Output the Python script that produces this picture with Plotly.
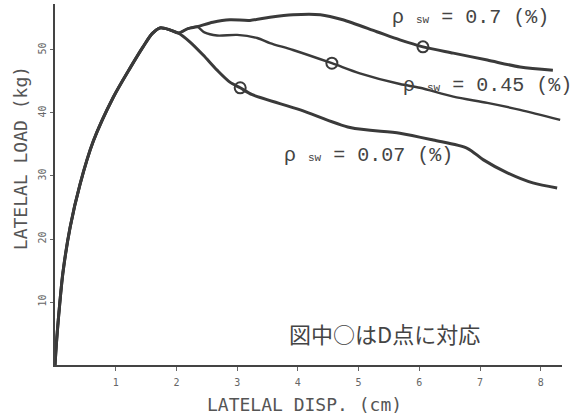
import plotly.graph_objects as go

# ---- data ----
# common rising branch (shared by all three specimens)
rise_x = [0.0, 0.02, 0.05, 0.13, 0.25, 0.41, 0.63, 0.96, 1.24, 1.45, 1.60, 1.73, 1.89, 2.03]
rise_y = [0.0, 3.0, 6.7, 14.6, 21.9, 28.6, 35.5, 42.5, 47.2, 50.5, 52.6, 53.5, 53.2, 52.7]

# short shared part of the two upper curves
upper_x = [2.19, 2.34]
upper_y = [53.4, 53.7]

# rho_sw = 0.07 %
s007_x = [2.22, 2.44, 2.67, 2.88, 3.05, 3.25, 4.04, 4.86, 5.68, 6.23, 6.79, 7.05, 7.45, 7.87, 8.27]
s007_y = [51.3, 49.2, 46.8, 44.9, 44.0, 42.9, 40.5, 37.7, 36.8, 35.7, 34.4, 32.6, 30.5, 28.9, 28.1]

# rho_sw = 0.45 %
s045_x = [2.46, 2.67, 3.00, 3.33, 3.54, 3.92, 4.56, 5.02, 5.68, 6.01, 6.56, 7.12, 7.66, 8.32]
s045_y = [52.8, 52.3, 52.4, 51.9, 51.1, 50.0, 47.9, 46.3, 44.6, 44.0, 42.6, 41.6, 40.5, 38.9]

# rho_sw = 0.7 %
s07_x = [2.60, 2.88, 3.21, 3.54, 3.92, 4.37, 4.74, 5.30, 5.68, 6.06, 6.56, 7.12, 7.66, 8.20]
s07_y = [54.4, 54.8, 54.7, 55.2, 55.6, 55.6, 54.8, 52.9, 51.6, 50.5, 49.5, 48.4, 47.3, 46.8]

# D points (open circles)
d_x = [3.05, 4.56, 6.06]
d_y = [44.0, 47.9, 50.5]

x_ticks = [1, 2, 3, 4, 5, 6, 7, 8]
y_ticks = [10, 20, 30, 40, 50]

labels = ["0.7", "0.45", "0.07"]
label_x = [6.84, 7.13, 5.16]
label_y = [55.1, 44.4, 33.3]

LINE = "#3a3a3a"

fig = go.Figure()

curves = [
    (rise_x + s007_x, rise_y + s007_y, 3.0),
    (rise_x + upper_x + s045_x, rise_y + upper_y + s045_y, 2.4),
    (rise_x + upper_x + s07_x, rise_y + upper_y + s07_y, 3.0),
]
for cx, cy, w in curves:
    fig.add_trace(go.Scatter(x=cx, y=cy, mode="lines",
                             line=dict(color=LINE, width=w, shape="spline", smoothing=0.8),
                             hoverinfo="skip", showlegend=False))

fig.add_trace(go.Scatter(x=d_x, y=d_y, mode="markers",
                         marker=dict(symbol="circle-open", size=11, color=LINE,
                                     line=dict(width=2, color=LINE)),
                         showlegend=False))

for lab, lx, ly in zip(labels, label_x, label_y):
    fig.add_annotation(x=lx, y=ly, xref="x", yref="y", showarrow=False,
                       xanchor="center", yanchor="middle",
                       text="ρ <span style='font-size:11px'>sw</span> = " + lab + " (%)",
                       font=dict(family="Liberation Mono, DejaVu Sans Mono", size=20, color="#444"))

fig.add_annotation(x=5.42, y=5.1, xref="x", yref="y", showarrow=False,
                   xanchor="center", yanchor="middle",
                   text="図中○はD点に対応",
                   font=dict(family="Noto Sans CJK JP", size=22, color="#444"))

fig.add_annotation(x=-0.069, y=0.573, xref="paper", yref="paper", showarrow=False,
                   xanchor="center", yanchor="middle",
                   text="LATELAL LOAD (kg)", textangle=-90,
                   font=dict(family="DejaVu Sans Mono", size=18, color="#555"))
fig.add_annotation(x=0.493, y=-0.110, xref="paper", yref="paper", showarrow=False,
                   xanchor="center", yanchor="middle",
                   text="LATELAL DISP. (cm)",
                   font=dict(family="DejaVu Sans Mono", size=18, color="#555"))

fig.update_layout(
    width=571, height=417,
    margin=dict(l=55, r=9, t=4, b=52),
    paper_bgcolor="white", plot_bgcolor="white",
    showlegend=False,
)
fig.update_xaxes(range=[0, 8.35], tickvals=x_ticks, ticktext=[str(v) for v in x_ticks],
                 showgrid=False, zeroline=False, showline=True, linecolor="#444", linewidth=2,
                 ticks="outside", ticklen=4, tickwidth=1, tickcolor="#666",
                 ticklabelstandoff=3,
                 tickfont=dict(family="DejaVu Sans Mono", size=10, color="#666"))
fig.update_yaxes(range=[0, 57.3], tickvals=y_ticks, ticktext=[str(v) for v in y_ticks],
                 showgrid=False, zeroline=False, showline=True, linecolor="#444", linewidth=2,
                 ticks="outside", ticklen=3, tickwidth=1, tickcolor="#666", tickangle=-90,
                 ticklabelstandoff=0,
                 tickfont=dict(family="DejaVu Sans Mono", size=10, color="#666"))

fig.write_html("out.html")
